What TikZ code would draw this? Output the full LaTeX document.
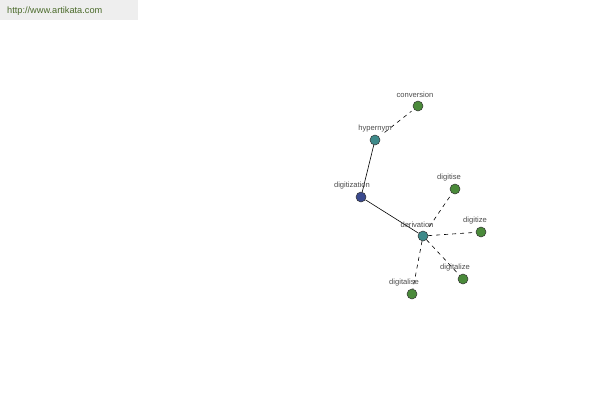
\documentclass[tikz,border=0pt]{standalone}
\usepackage{fontspec}
\setmainfont{Liberation Sans}
\begin{document}
\begin{tikzpicture}[x=1pt,y=-1pt,
  vert/.style={circle,draw=black!80,line width=0.5pt,minimum size=10pt,inner sep=0pt},
  root/.style={vert,fill=rootc},
  mid/.style={vert,fill=midc},
  leaf/.style={vert,fill=leafc},
  lab/.style={font=\fontsize{7.6}{9}\selectfont,text=black!70,inner sep=0.5pt},
  solidedge/.style={draw=black,line width=0.6pt},
  dashedge/.style={draw=black,line width=0.6pt,dashed,dash pattern=on 4pt off 4pt}]
\definecolor{rootc}{HTML}{3A4A8E}
\definecolor{midc}{HTML}{3E8A8A}
\definecolor{leafc}{HTML}{4A8A3A}
\definecolor{hdrbg}{HTML}{EEEEEE}
\definecolor{hdrtx}{HTML}{4A6A2A}
\useasboundingbox (0,0) rectangle (600,400);
\fill[white] (0,0) rectangle (600,400);
\fill[hdrbg] (0,0) rectangle (138,20);
\node[anchor=west,text=hdrtx,font=\fontsize{9.2}{11}\selectfont,inner sep=0pt] (hdr) at (7,11) {http://www.artikata.com};
% vertices
\node[root] (digitization) at (361,197) {};
\node[mid] (hypernym) at (375,140) {};
\node[leaf] (conversion) at (418,106) {};
\node[mid] (derivation) at (423,236) {};
\node[leaf] (digitise) at (455,189) {};
\node[leaf] (digitize) at (481,232) {};
\node[leaf] (digitalize) at (463,279) {};
\node[leaf] (digitalise) at (412,294) {};
% edges
\draw[solidedge] (digitization) -- (hypernym);
\draw[solidedge] (digitization) -- (derivation);
\draw[dashedge,shorten <=7pt,shorten >=3pt] (hypernym) -- (conversion);
\draw[dashedge,shorten <=6pt,shorten >=3pt] (derivation) -- (digitise);
\draw[dashedge] (derivation) -- (digitize);
\draw[dashedge] (derivation) -- (digitalize);
\draw[dashedge] (derivation) -- (digitalise);
% labels
\node[lab] (l1) at (415,95) {conversion};
\node[lab] (l2) at (375,129) {hypernym};
\node[lab] (l3) at (352,186) {digitization};
\node[lab] (l4) at (417,225) {derivation};
\node[lab] (l5) at (449,178) {digitise};
\node[lab] (l6) at (475,221) {digitize};
\node[lab] (l7) at (455,268) {digitalize};
\node[lab] (l8) at (404,283) {digitalise};
\end{tikzpicture}
\end{document}
